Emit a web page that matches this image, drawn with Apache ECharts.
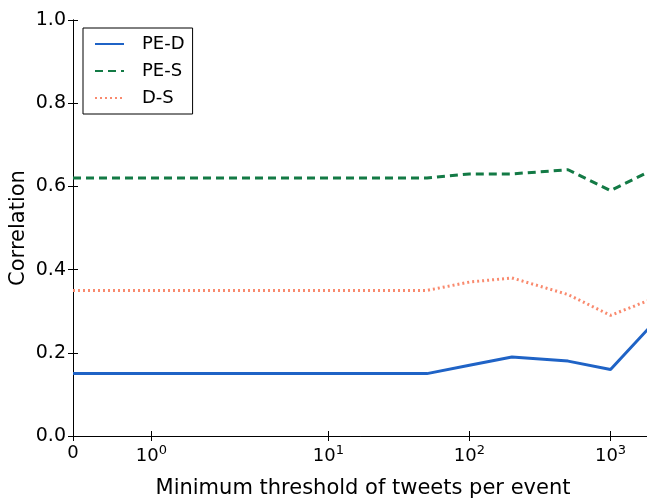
<!DOCTYPE html>
<html>
<head>
<meta charset="utf-8">
<script src="https://cdn.jsdelivr.net/npm/echarts@6/dist/echarts.min.js"></script>
<style>
  html, body { margin: 0; padding: 0; background: #fff; }
  #main { width: 647px; height: 501px; }
</style>
</head>
<body>
<div id="main"></div>
<script>
// minimum tweet thresholds (x) and correlations per pair
const thresholds = [0, 1, 2, 5, 10, 20, 50, 100, 200, 500, 1000, 2000];
const peD = [0.15, 0.15, 0.15, 0.15, 0.15, 0.15, 0.15, 0.17, 0.19, 0.18, 0.16, 0.27];
const peS = [0.62, 0.62, 0.62, 0.62, 0.62, 0.62, 0.62, 0.63, 0.63, 0.64, 0.59, 0.64];
const dS = [0.35, 0.35, 0.35, 0.35, 0.35, 0.35, 0.35, 0.37, 0.38, 0.34, 0.29, 0.33];

const xTicks = [0, 1, 10, 100, 1000];
const xTickLabels = ['0', '{b|10}{s|0}', '{b|10}{s|1}', '{b|10}{s|2}', '{b|10}{s|3}'];

// symlog scale, linear up to 2 (like matplotlib linthresh=2)
const LINTHRESH = 2;
const LINSCALE = 1 / (1 - 1 / 10);
function symlog(v) {
  if (v <= LINTHRESH) return v / LINTHRESH * LINSCALE;
  return LINSCALE + Math.log10(v / LINTHRESH);
}

const tickPos = xTicks.map(symlog);
function tickLabel(v) {
  let best = 0;
  tickPos.forEach((p, i) => { if (Math.abs(p - v) < Math.abs(tickPos[best] - v)) best = i; });
  return xTickLabels[best];
}

const font = 'DejaVu Sans';
const myChart = echarts.init(document.getElementById('main'));

const frameLine = { show: true, lineStyle: { color: '#000', width: 1 } };

myChart.setOption({
  animation: false,
  textStyle: { fontFamily: font },
  grid: { left: 73, top: 20, right: -6, bottom: 65, outerBoundsMode: 'none', containLabel: false },
  legend: {
    data: ['PE-D', 'PE-S', 'D-S'],
    orient: 'vertical',
    left: 83,
    top: 28,
    borderColor: '#000',
    borderWidth: 1,
    padding: [7, 8, 7, 11],
    itemWidth: 29,
    itemHeight: 14,
    itemGap: 9,
    itemStyle: { opacity: 0 },
    textStyle: { fontSize: 18, lineHeight: 18, color: '#000', fontFamily: font, padding: [0, 0, 0, 13] }
  },
  xAxis: [
    {
      type: 'value',
      min: 0,
      max: symlog(2000),
      name: 'Minimum threshold of tweets per event',
      nameLocation: 'middle',
      nameGap: 42,
      nameMoveOverlap: false,
      nameTextStyle: { fontSize: 21, color: '#000', fontFamily: font },
      axisLine: frameLine,
      axisTick: { show: true, inside: true, length: 5, customValues: tickPos, lineStyle: { color: '#000' } },
      axisLabel: {
        customValues: tickPos,
        margin: 8,
        formatter: tickLabel,
        color: '#000',
        fontSize: 18,
        rich: {
          b: { fontSize: 18, color: '#000', fontFamily: font },
          s: { fontSize: 13, color: '#000', fontFamily: font, padding: [0, 0, 12, 0] }
        }
      },
      splitLine: { show: false }
    },
    {
      type: 'value',
      position: 'top',
      min: 0,
      max: symlog(2000),
      axisLine: frameLine,
      axisTick: { show: true, inside: true, length: 5, customValues: tickPos, lineStyle: { color: '#000' } },
      axisLabel: { show: false },
      splitLine: { show: false }
    }
  ],
  yAxis: [
    {
      type: 'value',
      min: 0,
      max: 1,
      interval: 0.2,
      name: 'Correlation',
      nameLocation: 'middle',
      nameGap: 44,
      nameMoveOverlap: false,
      nameTextStyle: { fontSize: 21, color: '#000', fontFamily: font },
      axisLine: frameLine,
      axisTick: { show: true, inside: true, length: 5, lineStyle: { color: '#000' } },
      axisLabel: { color: '#000', fontSize: 19, margin: 7, formatter: v => v.toFixed(1) },
      splitLine: { show: false }
    },
    {
      type: 'value',
      position: 'right',
      min: 0,
      max: 1,
      interval: 0.2,
      axisLine: frameLine,
      axisTick: { show: true, inside: true, length: 5, lineStyle: { color: '#000' } },
      axisLabel: { show: false },
      splitLine: { show: false }
    }
  ],
  series: [
    {
      name: 'PE-D',
      type: 'line',
      symbol: 'none',
      color: '#1f63c6',
      lineStyle: { color: '#1f63c6', width: 3 },
      data: thresholds.map((t, i) => [symlog(t), peD[i]])
    },
    {
      name: 'PE-S',
      type: 'line',
      symbol: 'none',
      color: '#137a45',
      lineStyle: { color: '#137a45', width: 3, type: [8, 5] },
      data: thresholds.map((t, i) => [symlog(t), peS[i]])
    },
    {
      name: 'D-S',
      type: 'line',
      symbol: 'none',
      color: '#f98a6e',
      lineStyle: { color: '#f98a6e', width: 3, type: [2, 3] },
      data: thresholds.map((t, i) => [symlog(t), dS[i]])
    }
  ]
});
</script>
</body>
</html>
